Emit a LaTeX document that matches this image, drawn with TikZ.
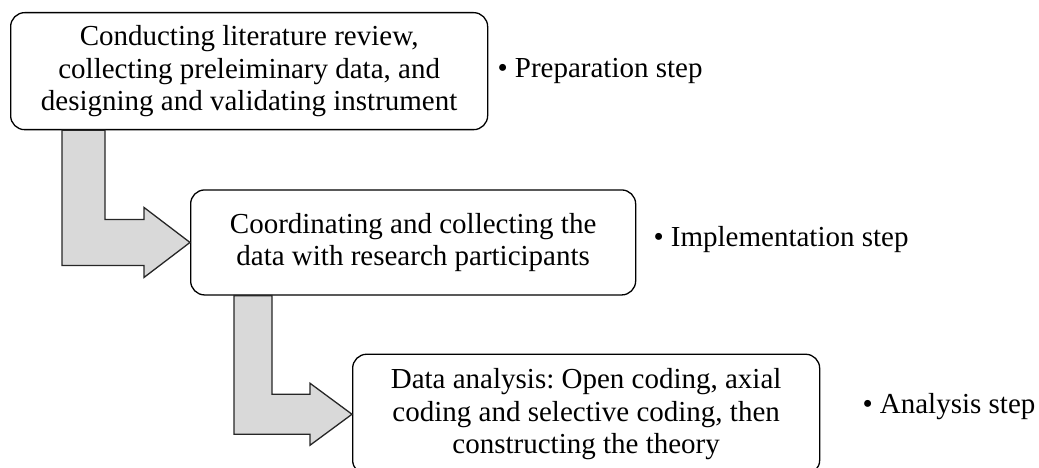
\documentclass[tikz,border=0pt]{standalone}
\usepackage{fontspec}
\setmainfont{Liberation Serif}
\usetikzlibrary{positioning}
\frenchspacing

\begin{document}
\begin{tikzpicture}[x=1pt,y=1pt,
  box/.style={rectangle,draw=black,fill=white,rounded corners=14pt,line width=1.3pt,
    align=center,inner sep=0pt,font=\fontsize{29}{32.5}\selectfont},
  stage/.style={inner sep=0pt,font=\fontsize{29}{32.5}\selectfont},
  flow/.style={draw=black!85,fill=gray!30,line width=1.3pt,line join=miter}
]
  \useasboundingbox (0,0) rectangle (1039,-468);
  \node[box,minimum width=477pt,minimum height=117pt,anchor=north west] (prep) at (10,-12)
    {Conducting literature review,\\collecting preleiminary data, and\\designing and validating instrument};
  \node[box,minimum width=445pt,minimum height=105pt,below right=59pt and 180pt of prep.south west] (impl)
    {Coordinating and collecting the\\data with research participants};
  \node[box,minimum width=467pt,minimum height=120pt,below right=58pt and 162pt of impl.south west] (anal)
    {Data analysis: Open coding, axial\\coding and selective coding, then\\constructing the theory};
  \node[stage,right=9pt of prep] (prepstep) {\textbullet\ Preparation step};
  \node[stage,right=17pt of impl,yshift=3pt] (implstep) {\textbullet\ Implementation step};
  \node[stage,right=42pt of anal,yshift=8pt] (analstep) {\textbullet\ Analysis step};
  \draw[flow] ([xshift=52pt]prep.south west) |- ([xshift=-46pt,yshift=-23pt]impl.west)
    -- ++(0,-12) -- (impl.west) -- ++(-46,35) -- ++(0,-12)
    -| ([xshift=95pt]prep.south west) -- cycle;
  \draw[flow] ([xshift=44pt]impl.south west) |- ([xshift=-42pt,yshift=-20pt]anal.west)
    -- ++(0,-11) -- (anal.west) -- ++(-42,31) -- ++(0,-11)
    -| ([xshift=82pt]impl.south west) -- cycle;
\end{tikzpicture}
\end{document}
